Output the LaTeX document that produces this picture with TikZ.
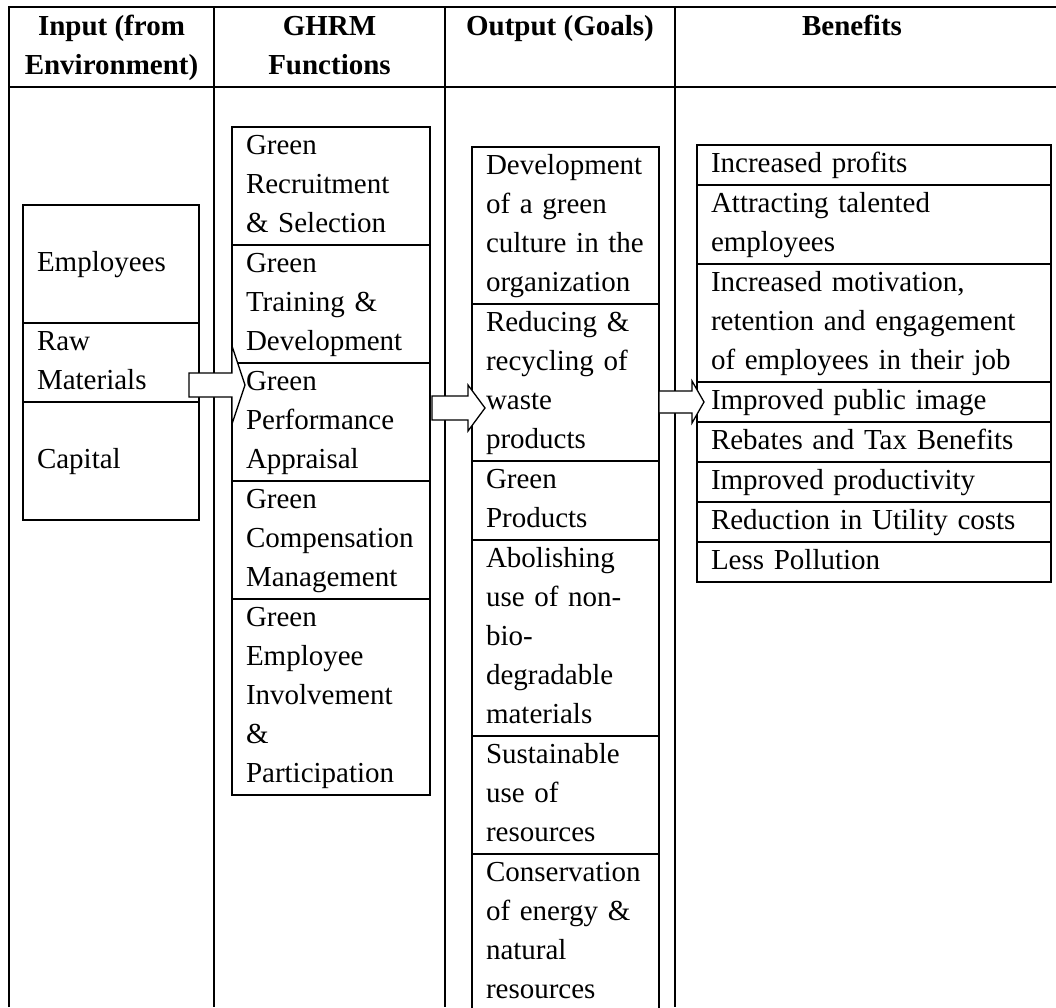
\documentclass[tikz,border=0pt]{standalone}
\usepackage{fontspec}
\setmainfont{Liberation Serif}
\newcommand\toprl{\rule{0pt}{27pt}}
\newcommand\botrl{\rule[-13pt]{0pt}{13pt}}
\begin{document}
\begin{tikzpicture}[x=1pt,y=-1pt,
  tbl/.style={line width=1.8pt},
  cell/.style={draw, line width=1.6pt, anchor=north west, outer sep=0pt, inner xsep=14pt, inner ysep=0pt, align=left, font=\fontsize{29}{39}\selectfont},
  incell/.style={cell, text width=148pt},
  gcell/.style={cell, text width=170pt},
  ocell/.style={cell, text width=159pt},
  bcell/.style={cell, text width=326pt},
  hdr/.style={anchor=north, inner sep=0pt, outer sep=0pt, align=center, font=\fontsize{29}{39}\selectfont\bfseries},
  blk/.style={draw, fill=white, line width=1.3pt, line join=miter}]
\useasboundingbox (0,0) rectangle (1056,1007);
\clip (0,0) rectangle (1056,1007);
% table frame
\draw[tbl, line join=miter] (9,1007) -- (9,7) -- (1056,7);
\draw[tbl] (9,87) -- (1056,87);
\draw[tbl] (214,7) -- (214,1007);
\draw[tbl] (445,7) -- (445,1007);
\draw[tbl] (675,7) -- (675,1007);
% headers
\node[hdr] (h1) at (111.5,8) {\toprl Input (from\\Environment)};
\node[hdr] (h2) at (329.5,8) {\toprl GHRM\\Functions};
\node[hdr] (h3) at (560,8) {\toprl Output (Goals)};
\node[hdr] (h4) at (852,8) {\toprl Benefits};
% inputs
\node[incell, minimum height=118pt] (emp) at (23,205) {\toprl Employees\botrl};
\node[incell, minimum height=79pt] (raw) at (23,323) {\toprl Raw\\Materials\botrl};
\node[incell, minimum height=118pt] (cap) at (23,402) {\toprl Capital\botrl};
% GHRM functions
\node[gcell, minimum height=118pt] (g1) at (232,127) {\toprl Green\\Recruitment\\\& Selection\botrl};
\node[gcell, minimum height=118pt] (g2) at (232,245) {\toprl Green\\Training \&\\Development\botrl};
\node[gcell, minimum height=118pt] (g3) at (232,363) {\toprl Green\\Performance\\Appraisal\botrl};
\node[gcell, minimum height=118pt] (g4) at (232,481) {\toprl Green\\Compensation\\Management\botrl};
\node[gcell, minimum height=196pt] (g5) at (232,599) {\toprl Green\\Employee\\Involvement\\\&\\Participation\botrl};
% outputs
\node[ocell, minimum height=157pt] (o1) at (472,147) {\toprl Development\\of a green\\culture in the\\organization\botrl};
\node[ocell, minimum height=157pt] (o2) at (472,304) {\toprl Reducing \&\\recycling of\\waste\\products\botrl};
\node[ocell, minimum height=79pt] (o3) at (472,461) {\toprl Green\\Products\botrl};
\node[ocell, minimum height=196pt] (o4) at (472,540) {\toprl Abolishing\\use of non-\\bio-\\degradable\\materials\botrl};
\node[ocell, minimum height=118pt] (o5) at (472,736) {\toprl Sustainable\\use of\\resources\botrl};
\node[ocell, minimum height=157pt] (o6) at (472,854) {\toprl Conservation\\of energy \&\\natural\\resources\botrl};
% benefits
\node[bcell, minimum height=40pt] (b1) at (697,145) {\toprl Increased profits\botrl};
\node[bcell, minimum height=79pt] (b2) at (697,185) {\toprl Attracting talented\\employees\botrl};
\node[bcell, minimum height=118pt] (b3) at (697,264) {\toprl Increased motivation,\\retention and engagement\\of employees in their job\botrl};
\node[bcell, minimum height=40pt] (b4) at (697,382) {\toprl Improved public image\botrl};
\node[bcell, minimum height=40pt] (b5) at (697,422) {\toprl Rebates and Tax Benefits\botrl};
\node[bcell, minimum height=40pt] (b6) at (697,462) {\toprl Improved productivity\botrl};
\node[bcell, minimum height=40pt] (b7) at (697,502) {\toprl Reduction in Utility costs\botrl};
\node[bcell, minimum height=40pt] (b8) at (697,542) {\toprl Less Pollution\botrl};
% block arrows
\draw[blk] (189,373) -- (232,373) -- (232,346) -- (245,385) -- (232,424) -- (232,397) -- (189,397) -- cycle;
\draw[blk] (432,396) -- (468,396) -- (468,385) -- (485,408) -- (468,431) -- (468,420) -- (432,420) -- cycle;
\draw[blk] (659,391) -- (692,391) -- (692,381) -- (704,402) -- (692,423) -- (692,413) -- (659,413) -- cycle;
\end{tikzpicture}
\end{document}
